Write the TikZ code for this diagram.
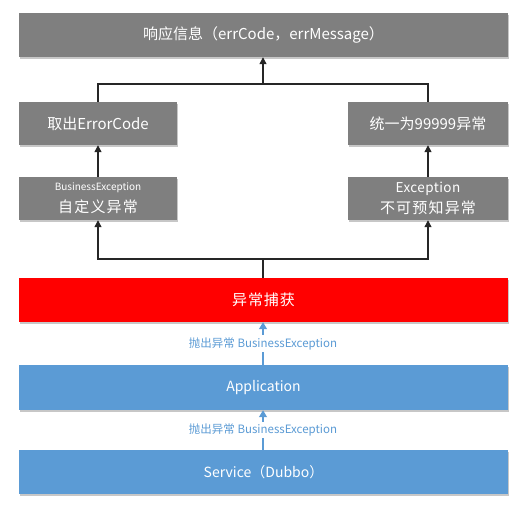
\documentclass[tikz,border=0pt]{standalone}
\usepackage{fontspec}
\setmainfont{Noto Sans CJK SC}
\usetikzlibrary{arrows.meta,shadows}
\definecolor{boxgray}{HTML}{7F7F7F}
\definecolor{boxblue}{HTML}{5B9BD5}
\definecolor{boxred}{HTML}{FF0000}
\definecolor{linegray}{HTML}{262626}
\tikzset{
  x=1pt, y=-1pt,
  box/.style={draw=none, minimum width=#1, inner sep=0pt, text=white, align=center,
    drop shadow={shadow xshift=0.5pt, shadow yshift=-2pt, opacity=0.22, fill=black}},
  graybox/.style={box=#1, fill=boxgray},
  redbox/.style={box=#1, fill=boxred},
  bluebox/.style={box=#1, fill=boxblue},
  big/.style={font=\fontsize{15}{18}\selectfont},
  conn/.style={draw=linegray, line width=1.2pt},
  arr/.style={conn, -{Triangle[length=7pt,width=7pt]}},
  barr/.style={draw=boxblue, line width=1.2pt, -{Triangle[length=7pt,width=8pt]}},
  blab/.style={fill=white, text=boxblue, inner sep=2pt, font=\fontsize{11.5}{13}\selectfont},
}
\begin{document}
\begin{tikzpicture}
\useasboundingbox (0,0) rectangle (516,505);
\node[graybox=489pt, minimum height=44pt, big] (resp) at (263.5,35) {响应信息（errCode，errMessage）};
\node[graybox=158pt, minimum height=43pt, big] (code) at (98,123.5) {取出ErrorCode};
\node[graybox=160pt, minimum height=43pt, big] (unify) at (428,123.5) {统一为99999异常};
\node[graybox=158pt, minimum height=43pt] (biz) at (98,198.5) {{\fontsize{10}{12}\selectfont BusinessException}\\[6pt]{\fontsize{15}{18}\selectfont\addfontfeature{LetterSpace=8} 自定义异常}};
\node[graybox=160pt, minimum height=43pt] (exc) at (428,198.5) {{\fontsize{13.5}{14}\selectfont\addfontfeature{LetterSpace=3} Exception}\\[5pt]{\fontsize{15}{18}\selectfont\addfontfeature{LetterSpace=8} 不可预知异常}};
\node[redbox=489pt, minimum height=44pt, font=\fontsize{15}{18}\selectfont\addfontfeature{LetterSpace=6}] (catch) at (263.5,300) {异常捕获};
\node[bluebox=489pt, minimum height=45pt, font=\fontsize{14}{17}\selectfont] (app) at (263.5,387.5) {Application};
\node[bluebox=489pt, minimum height=44pt, font=\fontsize{14}{17}\selectfont] (svc) at (263.5,472) {Service（Dubbo）};
\coordinate (j1) at (263,84);
\coordinate (j2) at (263,259);
\draw[conn] (code.north) |- (j1) -| (unify.north);
\draw[arr] (j1) -- (resp.south -| j1);
\draw[arr] (biz.north) -- (code.south);
\draw[arr] (exc.north) -- (unify.south);
\draw[conn] (catch.north -| j2) -- (j2);
\draw[arr] (j2) -| (biz.south);
\draw[arr] (j2) -| (exc.south);
\draw[barr] (app.north -| j2) -- (catch.south -| j2) node[midway, blab] (l1) {抛出异常 BusinessException};
\draw[barr] (svc.north -| j2) -- (app.south -| j2) node[midway, blab] (l2) {抛出异常 BusinessException};
\end{tikzpicture}
\end{document}
